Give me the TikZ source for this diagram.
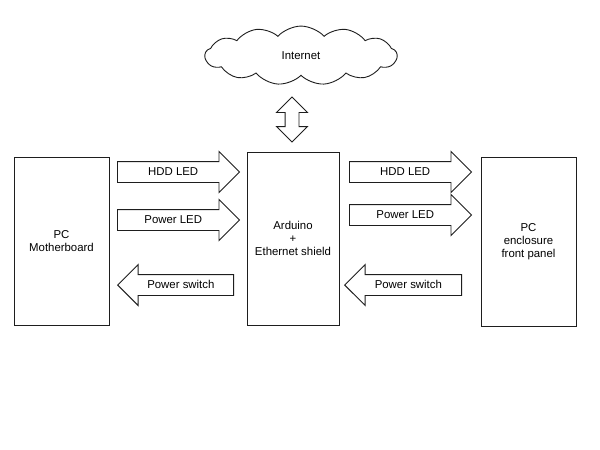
\documentclass[tikz,border=0pt]{standalone}
\usepackage{fontspec}
\setmainfont{Liberation Sans}
\usepackage{tikz}
\usetikzlibrary{shapes.symbols,shapes.arrows,positioning}
\definecolor{linegray}{RGB}{30,30,30}
\tikzstyle{block} = [rectangle, draw=linegray, line width=0.9pt, align=center, inner sep=0pt]
\tikzstyle{fatarrow} = [single arrow, draw=linegray, line width=0.9pt, single arrow head extend=10pt, single arrow tip angle=90, text height=8.5pt, text depth=2.5pt, inner xsep=1pt, inner ysep=4.5pt]
\tikzstyle{netcloud} = [cloud, draw=linegray, line width=0.9pt, cloud puffs=13, cloud puff arc=95, minimum width=192pt, minimum height=56pt, inner sep=0pt]

\begin{document}
\begin{tikzpicture}[x=1pt, y=-1pt, font=\fontsize{11.4}{13}\selectfont]
\useasboundingbox (0,0) rectangle (600,450);

% Boxes
\node [block, minimum width=95pt, minimum height=168pt] (mb) at (61.5,241) {PC\\Motherboard};
\node [block, minimum width=92pt, minimum height=173pt] (ard) at (293,238.5) {Arduino\\+\\Ethernet shield};
\node [block, minimum width=95pt, minimum height=169pt] (panel) at (528.5,241.5) {PC\\enclosure\\front panel};

% Internet
\node [netcloud] (net) at (301,55.5) {Internet};
\node [double arrow, draw=linegray, line width=0.9pt, shape border rotate=90, minimum height=45pt, double arrow head extend=8.5pt, double arrow tip angle=90, inner sep=6.5pt] (link) at (292,119.5) {};

% Motherboard <-> Arduino
\node [fatarrow, minimum height=122pt, anchor=tail] (hddin) at (117,172) {HDD LED};
\node [fatarrow, minimum height=122pt, anchor=tail] (pwrin) at (117,220) {Power LED};
\node [fatarrow, minimum height=116pt, shape border rotate=180, anchor=tip] (swout) at (117,285) {Power switch};

% Arduino <-> front panel
\node [fatarrow, minimum height=122pt, anchor=tail] (hddout) at (349,172) {HDD LED};
\node [fatarrow, minimum height=122pt, anchor=tail] (pwrout) at (349,215) {Power LED};
\node [fatarrow, minimum height=117pt, shape border rotate=180, anchor=tip] (swin) at (344,285) {Power switch};

\end{tikzpicture}
\end{document}
